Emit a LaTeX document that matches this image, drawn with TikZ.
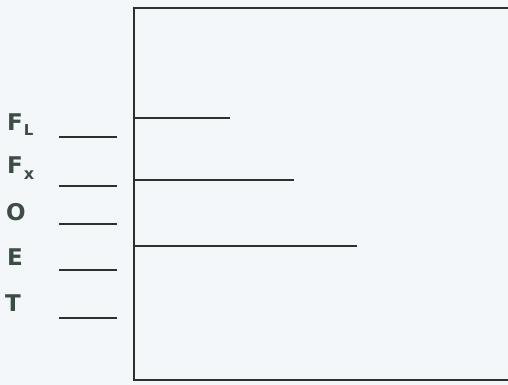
\documentclass[tikz,border=0pt]{standalone}
\usepackage{fontspec}
\setmainfont{DejaVu Sans}
\begin{document}
\begin{tikzpicture}[x=1pt,y=-1pt,
  lbl/.style={anchor=base west,inner sep=0pt,text=labelcol,font=\bfseries\fontsize{23}{26}\selectfont},
  blank/.style={draw=linecol,line width=1.1pt},
  tick/.style={draw=linecol,line width=1.2pt}]
\definecolor{labelcol}{HTML}{3E4D44}
\definecolor{linecol}{HTML}{2E302E}
\definecolor{bgcol}{HTML}{F3F7FA}
\useasboundingbox (0,0) rectangle (508,385);
\fill[bgcol] (0,0) rectangle (508,385);
\clip (0,0) rectangle (508,385);
% box
\coordinate (tl) at (134,8);
\coordinate (br) at (512,380);
\draw[linecol,line width=1.4pt] (tl) rectangle (br);
% inner lines
\coordinate (a1) at (134,118); \coordinate (a2) at (230,118);
\coordinate (b1) at (134,180); \coordinate (b2) at (294,180);
\coordinate (c1) at (134,246); \coordinate (c2) at (357,246);
\draw[tick] (a1) -- (a2);
\draw[tick] (b1) -- (b2);
\draw[tick] (c1) -- (c2);
% labels
\node[lbl] (fl) at (7,130) {F\kern1pt\raisebox{-0.25em}{\fontsize{15}{16}\selectfont L}};
\node[lbl] (fx) at (7,173) {F\kern1pt\raisebox{-0.28em}{\fontsize{16}{16}\selectfont x}};
\node[lbl] (o) at (6,220) {O};
\node[lbl] (e) at (7,265) {E};
\node[lbl] (t) at (5,311) {T};
% blanks
\foreach \y/\n in {137/1,186/2,224/3,270/4,318/5}{
  \coordinate (s\n) at (59,\y); \coordinate (e\n) at (117,\y);
  \draw[blank] (s\n) -- (e\n);
}
\end{tikzpicture}
\end{document}
